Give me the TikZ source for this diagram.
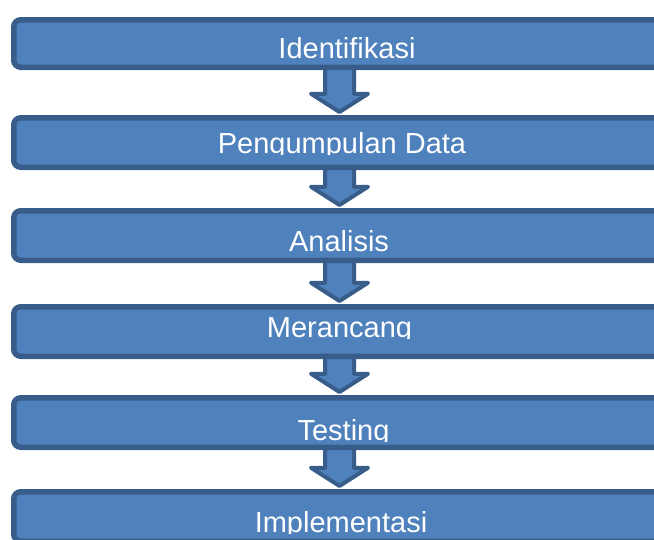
\documentclass[tikz,border=0pt]{standalone}
\usepackage{fontspec}
\setmainfont{Liberation Sans}
\usetikzlibrary{calc,backgrounds}
\definecolor{boxfill}{HTML}{4F81BD}
\definecolor{boxline}{HTML}{385D8A}
\tikzset{
  stepbox/.style={rectangle, rounded corners=7pt, draw=boxline, fill=boxfill,
    line width=5.5pt, minimum width=655.5pt, minimum height=49.5pt,
    inner sep=0pt, outer sep=0pt},
  flowarrow/.style={draw=boxline, fill=boxfill, line width=4pt, line join=round},
  lbl/.style={text=white, font=\fontsize{29}{34}\selectfont, inner sep=0pt, anchor=base}
}
\newcommand\stepconnector[2]{%
  \draw[flowarrow] let \p1=(#1.south), \p2=(#2.north) in
    (\x1-16.5pt,\y1) -- (\x1-16.5pt,\y2+24pt) -- (\x1-30.5pt,\y2+24pt)
    -- (\x1-2pt,\y2+5.75pt) -- (\x1+26.5pt,\y2+24pt) -- (\x1+12.5pt,\y2+24pt)
    -- (\x1+12.5pt,\y1) -- cycle;}
\begin{document}
\begin{tikzpicture}[x=1pt,y=-1pt]
\useasboundingbox (0,0) rectangle (654,539);
\clip (0,0) rectangle (654,539);
\node[stepbox, minimum height=47.5pt] (b1) at (341.5,43.5) {};
\node[stepbox] (b2) at (341.5,142.5) {};
\node[stepbox] (b3) at (341.5,235.5) {};
\node[stepbox] (b4) at (341.5,331.5) {};
\node[stepbox] (b5) at (341.5,422.5) {};
\node[stepbox] (b6) at (341.5,516.5) {};
\begin{scope}[on background layer]
  \stepconnector{b1}{b2}
  \stepconnector{b2}{b3}
  \stepconnector{b3}{b4}
  \stepconnector{b4}{b5}
  \stepconnector{b5}{b6}
\end{scope}
\begin{scope}\clip (0,20) rectangle (654,59);
  \node[lbl] (t1) at (347,58) {Identifikasi};\end{scope}
\begin{scope}\clip (0,118) rectangle (654,154.5);
  \node[lbl] (t2) at (342,153) {Pengumpulan Data};\end{scope}
\begin{scope}\clip (0,211) rectangle (654,252);
  \node[lbl] (t3) at (339,251) {Analisis};\end{scope}
\begin{scope}\clip (0,307) rectangle (654,338.5);
  \node[lbl] (t4) at (339.5,337) {Merancang};\end{scope}
\begin{scope}\clip (0,398) rectangle (654,441.5);
  \node[lbl] (t5) at (343.5,440) {Testing};\end{scope}
\begin{scope}\clip (0,492) rectangle (654,533.5);
  \node[lbl] (t6) at (341,532) {Implementasi};\end{scope}
\end{tikzpicture}
\end{document}
